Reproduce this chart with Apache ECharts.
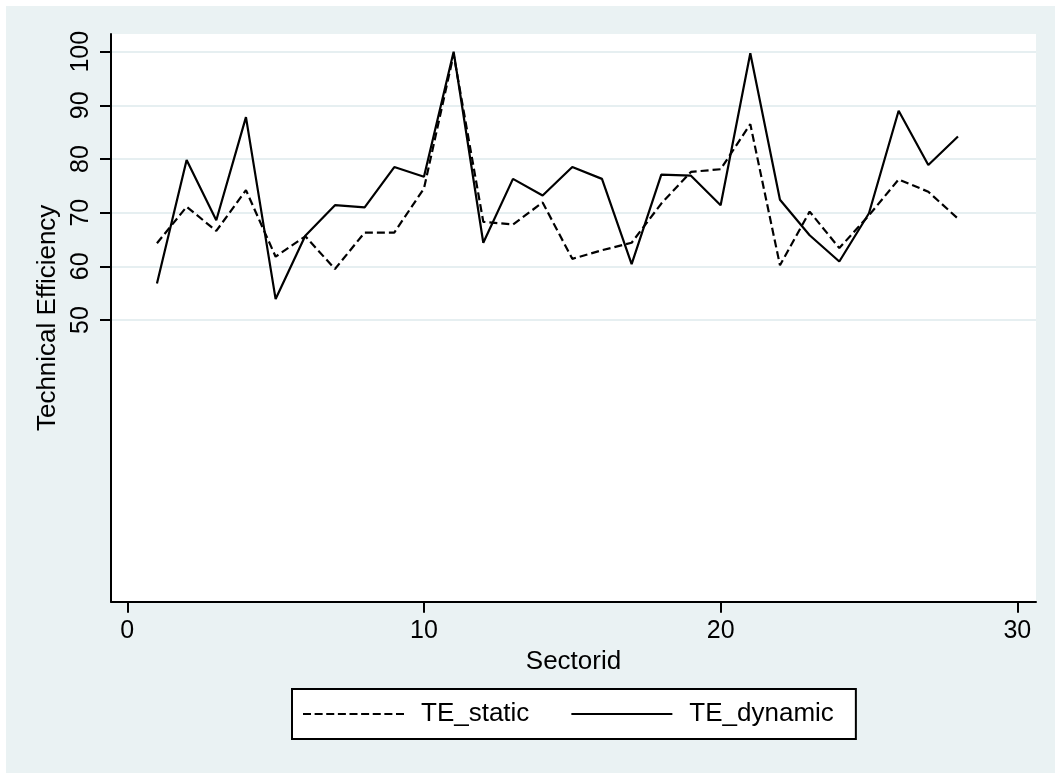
<!DOCTYPE html>
<html>
<head>
<meta charset="utf-8">
<script src="https://cdn.jsdelivr.net/npm/echarts@6/dist/echarts.min.js"></script>
<style>
html,body{margin:0;padding:0;background:#fff;}
#chart{width:1055px;height:773px;}
</style>
</head>
<body>
<div id="chart"></div>
<script>
var sectors = [1,2,3,4,5,6,7,8,9,10,11,12,13,14,15,16,17,18,19,20,21,22,23,24,25,26,27,28];
var teStatic = [64.3,71.1,66.6,74.2,61.8,65.6,59.5,66.3,66.3,74.5,99.5,68.3,67.8,71.9,61.4,63.0,64.4,71.7,77.6,78.1,86.5,60.2,70.2,63.4,69.5,76.2,73.9,68.9];
var teDynamic = [56.8,79.8,68.6,87.8,53.9,65.7,71.4,71.0,78.5,76.7,100,64.4,76.3,73.2,78.5,76.3,60.4,77.1,76.9,71.4,99.7,72.4,65.8,60.9,69.9,89.0,78.9,84.2];
var xTicks = [0,10,20,30];
var yTicks = [50,60,70,80,90,100];

function pairs(xs, ys){ return xs.map(function(x,i){ return [x, ys[i]]; }); }

// legend icons: a dashed and a solid stroke drawn as thin bars
var dashIcon = 'path://';
for (var k = 0; k < 9; k++) { dashIcon += 'M' + (k * 11.6) + ',0h8v2h-8z'; }
var solidIcon = 'path://M0,0h101v2h-101z';

var FONT = 'Liberation Sans, Arial, Helvetica, sans-serif';
var chart = echarts.init(document.getElementById('chart'));
chart.setOption({
  animation: false,
  textStyle: {fontFamily: FONT, color: '#000'},
  graphic: [{
    type: 'rect', left: 6, top: 6, z: -100, silent: true,
    shape: {width: 1049, height: 767},
    style: {fill: '#EAF2F3'}
  }],
  grid: {
    left: 111, top: 34, width: 925, height: 567.7,
    show: true, backgroundColor: '#ffffff', borderWidth: 0
  },
  xAxis: {
    type: 'value', min: -0.549, max: 30.63,
    name: 'Sectorid', nameLocation: 'middle', nameGap: 46,
    nameTextStyle: {fontSize: 26, color: '#000', fontFamily: FONT},
    axisLine: {show: true, onZero: false, lineStyle: {color: '#000', width: 2}},
    axisTick: {show: true, length: 11, lineStyle: {color: '#000', width: 2}, customValues: xTicks},
    axisLabel: {fontSize: 25, color: '#000', margin: 17, customValues: xTicks, fontFamily: FONT},
    splitLine: {show: false}
  },
  yAxis: {
    type: 'value', min: -2.5, max: 103.3,
    name: 'Technical Efficiency', nameLocation: 'middle', nameGap: 42, nameRotate: 90,
    nameTextStyle: {fontSize: 26, color: '#000', fontFamily: FONT},
    axisLine: {show: true, onZero: false, lineStyle: {color: '#000', width: 2}},
    axisTick: {show: true, length: 11, lineStyle: {color: '#000', width: 2}, customValues: yTicks},
    axisLabel: {fontSize: 25, color: '#000', margin: 17, rotate: 90, customValues: yTicks, fontFamily: FONT},
    splitLine: {show: true, lineStyle: {color: '#E6EFF1', width: 2}}
  },
  legend: {
    data: [{name: 'TE_static', icon: dashIcon}, {name: 'TE_dynamic', icon: solidIcon}],
    left: 292, top: 689,
    orient: 'horizontal',
    itemWidth: 101, itemHeight: 14, itemGap: 42,
    padding: [12, 22, 12, 11],
    backgroundColor: '#ffffff', borderColor: '#000', borderWidth: 2, borderRadius: 0,
    itemStyle: {color: '#000', borderWidth: 0},
    textStyle: {fontSize: 26, color: '#000', fontFamily: FONT, padding: [0, 0, 0, 12]}
  },
  series: [
    {
      name: 'TE_static', type: 'line', data: pairs(sectors, teStatic),
      symbol: 'none', showSymbol: false,
      lineStyle: {color: '#000', width: 2.2, type: [8, 4]},
      itemStyle: {color: '#000'}
    },
    {
      name: 'TE_dynamic', type: 'line', data: pairs(sectors, teDynamic),
      symbol: 'none', showSymbol: false,
      lineStyle: {color: '#000', width: 2.2, type: 'solid'},
      itemStyle: {color: '#000'}
    }
  ]
});
</script>
</body>
</html>
